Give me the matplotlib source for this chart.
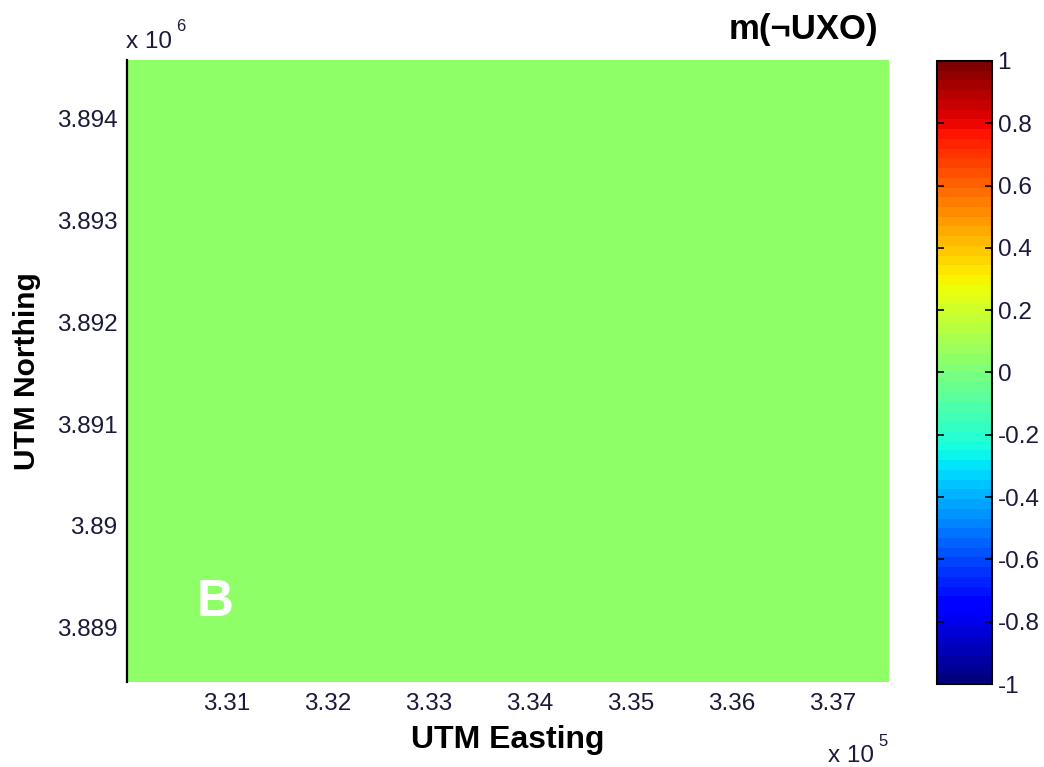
import numpy as np
import matplotlib
matplotlib.use("Agg")
import matplotlib.pyplot as plt
from matplotlib.ticker import FixedLocator, FuncFormatter

plt.rcParams['font.family'] = ['Liberation Sans', 'DejaVu Sans']

# map extent (UTM metres)
easting_lim = [330010, 337550]
northing_lim = [3888470, 3894570]
# belief mass m(not UXO) over the area - uniform field
m_not_uxo = [[0.04]]
x_ticks = [331000, 332000, 333000, 334000, 335000, 336000, 337000]
y_ticks = [3889000, 3890000, 3891000, 3892000, 3893000, 3894000]
cbar_ticks = [-1, -0.8, -0.6, -0.4, -0.2, 0, 0.2, 0.4, 0.6, 0.8, 1]
panel_label = "B"

fig = plt.figure(figsize=(10.44, 7.67), dpi=100)
ax = fig.add_axes([0.1216, 0.1108, 0.729, 0.811])
cax = fig.add_axes([0.8975, 0.1082, 0.0527, 0.8123])

cmap = plt.get_cmap('jet', 64)
im = ax.imshow(np.array(m_not_uxo), cmap=cmap, vmin=-1, vmax=1, aspect='auto',
               origin='lower', interpolation='nearest',
               extent=[easting_lim[0], easting_lim[1], northing_lim[0], northing_lim[1]])
ax.set_xlim(easting_lim)
ax.set_ylim(northing_lim)

ax.xaxis.set_major_locator(FixedLocator(x_ticks))
ax.yaxis.set_major_locator(FixedLocator(y_ticks))
ax.xaxis.set_major_formatter(FuncFormatter(lambda v, p: '%g' % round(v / 1e5, 4)))
ax.yaxis.set_major_formatter(FuncFormatter(lambda v, p: '%g' % round(v / 1e6, 5)))
ax.tick_params(axis='x', length=0, pad=8, labelsize=17.5, colors='#1a1a3a')
ax.tick_params(axis='y', length=0, pad=7, labelsize=17.5, colors='#1a1a3a')

for s in ['top', 'right', 'bottom']:
    ax.spines[s].set_visible(False)
ax.spines['left'].set_linewidth(1.6)

ax.set_xlabel('UTM Easting', fontsize=23, fontweight='bold', labelpad=7)
ax.set_ylabel('UTM Northing', fontsize=21.5, fontweight='bold', labelpad=11)

ax.text(330883, 3889245, panel_label, color='white', fontsize=37,
        fontweight='bold', ha='center', va='center')

# offset labels, MATLAB style
fig.text(126 / 1044, 1 - 48 / 767, 'x 10', fontsize=17.5, color='#1a1a3a', va='baseline')
fig.text(176 / 1044, 1 - 31 / 767, '6', fontsize=12, color='#1a1a3a', va='baseline')
fig.text(828 / 1044, 1 - 762 / 767, 'x 10', fontsize=17.5, color='#1a1a3a', va='baseline')
fig.text(878 / 1044, 1 - 746 / 767, '5', fontsize=12, color='#1a1a3a', va='baseline')

fig.text(878 / 1044, 1 - 30 / 767, 'm(\u00acUXO)', fontsize=25, fontweight='bold',
         ha='right', va='center')

cb = fig.colorbar(im, cax=cax, ticks=cbar_ticks)
cb.ax.yaxis.set_major_formatter(FuncFormatter(lambda v, p: '%g' % round(v, 2)))
cb.ax.tick_params(direction='in', left=True, right=True, length=5, width=1.2,
                  labelsize=17.5, pad=4, labelcolor='#1a1a3a')
cb.outline.set_linewidth(1.5)

fig.savefig('out.png', dpi=100)
